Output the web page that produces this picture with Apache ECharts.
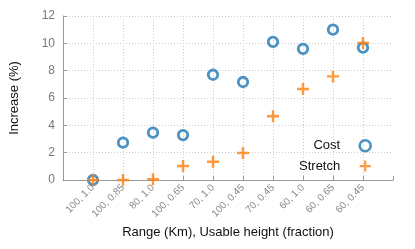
<!DOCTYPE html>
<html><head><meta charset="utf-8">
<script src="https://cdn.jsdelivr.net/npm/echarts@6/dist/echarts.min.js"></script>
<style>html,body{margin:0;padding:0;background:#fff}#c{width:415px;height:249px}</style>
</head><body><div id="c"></div>
<script>
const categories = ['100, 1.0','100, 0.85','80, 1.0','100, 0.65','70, 1.0','100, 0.45','70, 0.45','60, 1.0','60, 0.65','60, 0.45'];
const costValues = [0, 2.73, 3.46, 3.29, 7.70, 7.17, 10.1, 9.6, 11.0, 9.68];
const stretchValues = [0, 0, 0.05, 1.02, 1.34, 1.98, 4.66, 6.66, 7.58, 10.02];
const yTicks = [0, 2, 4, 6, 8, 10, 12];

const FONT = '"Liberation Sans", Arial, sans-serif';
const plusPath = 'path://M4,0H6V4H10V6H6V10H4V6H0V4H4Z';
const chart = echarts.init(document.getElementById('c'), null, {renderer: 'canvas'});
chart.setOption({
  animation: false,
  textStyle: {fontFamily: FONT},
  grid: {left: 63, right: 22, top: 16, bottom: 69},
  legend: {
    orient: 'vertical', align: 'right', right: 38, top: 134,
    itemWidth: 40, itemHeight: 11, itemGap: 7,
    textStyle: {fontSize: 13, color: '#111', fontFamily: FONT},
    data: [
      {name: 'Cost', itemStyle: {color: 'rgba(255,255,255,0)', borderColor: '#1f77b4', borderWidth: 2.6}},
      {name: 'Stretch'}
    ]
  },
  xAxis: {
    type: 'value', min: 0, max: 11, interval: 1,
    name: 'Range (Km), Usable height (fraction)', nameLocation: 'middle', nameGap: 45,
    nameTextStyle: {fontSize: 13, color: '#111', fontFamily: FONT},
    axisLine: {lineStyle: {color: '#999', width: 1}},
    axisTick: {inside: true, length: 4, lineStyle: {color: '#999'}},
    axisLabel: {
      rotate: 45, fontSize: 10, color: '#888', margin: 6, fontFamily: FONT,
      formatter: v => (v >= 1 && v <= categories.length) ? categories[v - 1] : ''
    },
    splitLine: {show: true, showMinLine: false, showMaxLine: false, lineStyle: {color: '#ccc', type: [1, 2]}}
  },
  yAxis: {
    type: 'value', min: yTicks[0], max: yTicks[yTicks.length - 1], interval: 2,
    name: 'Increase (%)', nameLocation: 'middle', nameGap: 42,
    nameTextStyle: {fontSize: 13, color: '#111', fontFamily: FONT},
    axisLine: {show: true, lineStyle: {color: '#999', width: 1}},
    axisTick: {show: true, inside: true, length: 4, lineStyle: {color: '#999'}},
    axisLabel: {fontSize: 12, color: '#777', margin: 8, fontFamily: FONT},
    splitLine: {show: true, showMinLine: false, lineStyle: {color: '#ccc', type: [1, 2]}}
  },
  series: [
    {
      name: 'Cost', type: 'scatter', symbol: 'circle', symbolSize: 9.5,
      itemStyle: {color: 'rgba(255,255,255,0)', borderColor: '#1f77b4', borderWidth: 2.8},
      data: categories.map((c, i) => [i + 1, costValues[i]])
    },
    {
      name: 'Stretch', type: 'scatter', symbol: plusPath, symbolSize: 12,
      itemStyle: {color: '#ff7f0e'},
      data: categories.map((c, i) => [i + 1, stretchValues[i]])
    }
  ]
});
</script></body></html>
